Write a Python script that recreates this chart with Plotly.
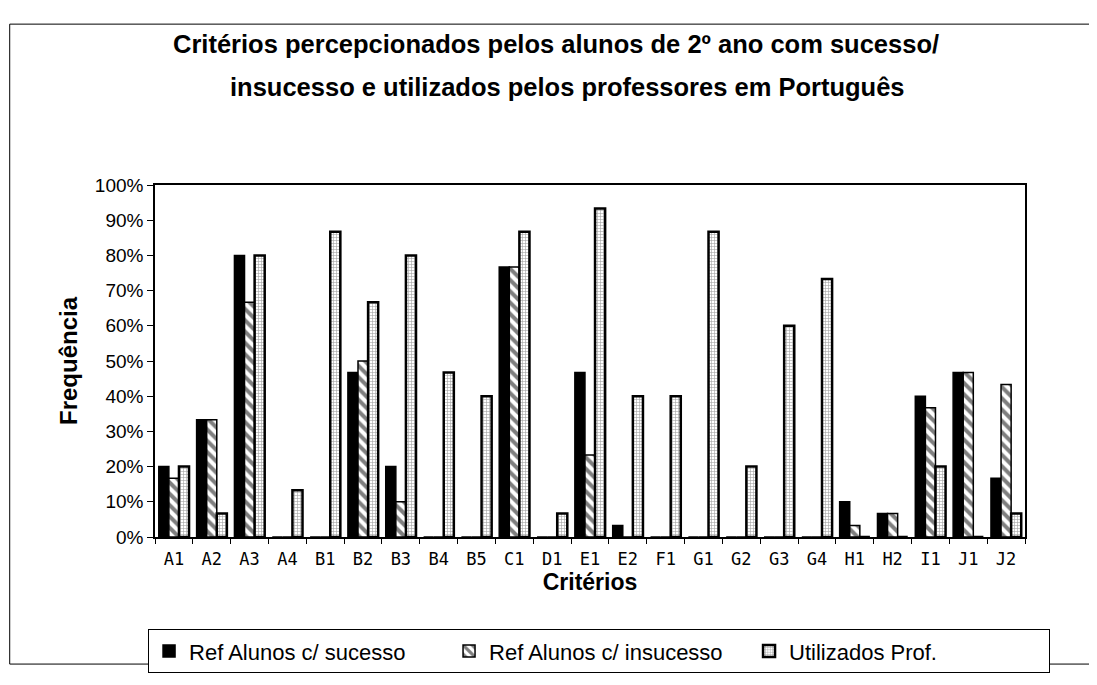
import plotly.graph_objects as go

criterios = ["A1", "A2", "A3", "A4", "B1", "B2", "B3", "B4", "B5", "C1", "D1", "E1",
             "E2", "F1", "G1", "G2", "G3", "G4", "H1", "H2", "I1", "J1", "J2"]

# fractions (0-1)
sucesso = [0.20, 0.333, 0.80, 0, 0, 0.467, 0.20, 0, 0, 0.767, 0, 0.467,
           0.033, 0, 0, 0, 0, 0, 0.10, 0.067, 0.40, 0.467, 0.167]
insucesso = [0.167, 0.333, 0.667, 0, 0, 0.50, 0.10, 0, 0, 0.767, 0, 0.233,
             0, 0, 0, 0, 0, 0, 0.033, 0.067, 0.367, 0.467, 0.433]
professores = [0.20, 0.067, 0.80, 0.133, 0.867, 0.667, 0.80, 0.467, 0.40, 0.867, 0.067, 0.933,
               0.40, 0.40, 0.867, 0.20, 0.60, 0.733, 0, 0, 0.20, 0, 0.067]

titulo = ["Critérios percepcionados pelos alunos de 2º ano com sucesso/",
          "insucesso e utilizados pelos professores em Português"]

FONT = "Liberation Sans, Arial, sans-serif"

fig = go.Figure()
fig.add_trace(go.Bar(
    x=criterios, y=sucesso, name="Ref Alunos c/ sucesso",
    marker=dict(color="black", line=dict(color="black", width=1.5)),
))
fig.add_trace(go.Bar(
    x=criterios, y=insucesso, name="Ref Alunos c/ insucesso",
    marker=dict(color="white", line=dict(color="black", width=1.5),
                pattern=dict(shape="\\", fgcolor="black", bgcolor="white",
                             size=8, solidity=0.5)),
))
fig.add_trace(go.Bar(
    x=criterios, y=professores, name="Utilizados Prof.",
    marker=dict(color="white", line=dict(color="black", width=2.5),
                pattern=dict(shape="+", fgcolor="#444444", bgcolor="white",
                             size=3, solidity=0.35)),
))

fig.update_layout(
    width=1097, height=685,
    paper_bgcolor="white", plot_bgcolor="white",
    barmode="group", bargap=0.2, bargroupgap=0,
    margin=dict(l=147, r=80, t=177, b=156, autoexpand=False),
    font=dict(family=FONT, color="black"),
    xaxis=dict(
        title=dict(text="<b>Critérios</b>", font=dict(size=23, family=FONT), standoff=4),
        tickfont=dict(size=17, family="DejaVu Sans Mono, monospace"),
        ticklabelstandoff=6,
        showline=True, linecolor="black", linewidth=1.5, mirror=True,
        ticks="outside", ticklen=5, tickson="boundaries", tickcolor="black",
        showgrid=False,
    ),
    yaxis=dict(
        title=dict(text="<b>Frequência</b>", font=dict(size=24, family=FONT), standoff=10),
        range=[0, 1], dtick=0.1, tickformat=".0%",
        tickfont=dict(size=19, family=FONT),
        showline=True, linecolor="black", linewidth=1.5, mirror=True,
        ticks="outside", ticklen=6, tickcolor="black",
        showgrid=False, zeroline=False,
    ),
    legend=dict(
        orientation="h", x=-0.008, xanchor="left", y=-0.262, yanchor="top",
        bordercolor="black", borderwidth=1,
        font=dict(size=22, family=FONT),
        entrywidth=255, entrywidthmode="pixels",
        traceorder="normal",
    ),
    annotations=[
        dict(text=f"<b>{linha}</b>", xref="paper", yref="paper",
             x=xx, y=yy, xanchor="center", yanchor="middle", showarrow=False,
             font=dict(size=25.5, family=FONT))
        for linha, xx, yy in zip(titulo, [0.461, 0.474], [1.40, 1.278])
    ],
    shapes=[dict(type="rect", xref="paper", yref="paper", x0=-0.167, x1=1.075,
                 y0=-0.361, y1=1.457, line=dict(color="black", width=1))],
)

fig.write_html("out.html")
